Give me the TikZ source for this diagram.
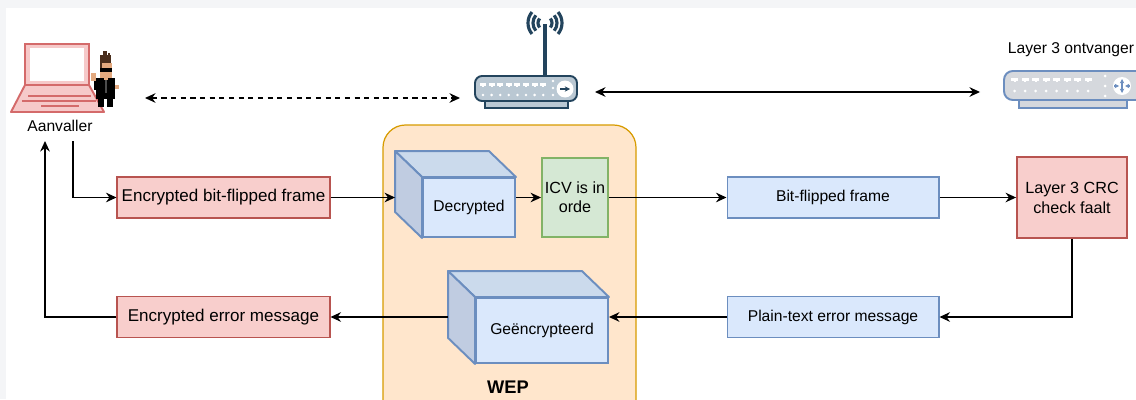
\documentclass[tikz,border=0pt]{standalone}
\usepackage{fontspec}
\setmainfont{Liberation Sans}
\usetikzlibrary{arrows.meta,positioning,calc}

\definecolor{redfill}{HTML}{F8CECC}
\definecolor{redline}{HTML}{B85450}
\definecolor{bluefill}{HTML}{DAE8FC}
\definecolor{blueline}{HTML}{6C8EBF}
\definecolor{cubetop}{HTML}{CBDAEC}
\definecolor{cubeside}{HTML}{C0CCE1}
\definecolor{greenfill}{HTML}{D5E8D4}
\definecolor{greenline}{HTML}{82B366}
\definecolor{wepfill}{HTML}{FFE6CC}
\definecolor{wepline}{HTML}{D79B00}
\definecolor{routerfill}{HTML}{BAC8D3}
\definecolor{routerline}{HTML}{23445D}
\definecolor{switchfill}{HTML}{D5D8DD}
\definecolor{laptopline}{HTML}{D46A6A}
\definecolor{laptopfill}{HTML}{F6C9C9}
\definecolor{pagegray}{HTML}{F4F5F7}
\definecolor{skin}{HTML}{E3A97F}
\definecolor{hair}{HTML}{4A2E1C}

\tikzset{
    txt/.style={font=\fontsize{8.9}{11}\selectfont, align=center},
    redbox/.style={draw=redline, fill=redfill, line width=0.6pt, inner sep=0pt,
        minimum width=4.26cm, minimum height=0.82cm, font=\fontsize{9.7}{11}\selectfont},
    bluebox/.style={draw=blueline, fill=bluefill, line width=0.6pt, inner sep=0pt,
        minimum width=4.24cm, minimum height=0.82cm, txt},
    cubeface/.style={draw=blueline, fill=bluefill, line width=1.1pt, inner sep=0pt, txt},
    flow/.style={draw=black, line width=0.7pt, -{Stealth[length=6pt,width=5.5pt,inset=2pt]}},
    both/.style={draw=black, line width=0.7pt,
        {Stealth[length=6pt,width=5.5pt,inset=2pt]}-{Stealth[length=6pt,width=5.5pt,inset=2pt]}},
}

% front face as a node, top and side faces drawn behind it
\newcommand{\wepcube}[5]{
    \node[cubeface, minimum width=#3, minimum height=#4] (#1) at #2 {};
    \draw[blueline, fill=cubetop, line width=1.1pt, line join=round]
        (#1.north west) -- ++(-27,-26) -- ($(#1.north east)+(-27,-26)$) -- (#1.north east) -- cycle;
    \draw[blueline, fill=cubeside, line width=1.1pt, line join=round]
        (#1.north west) -- ++(-27,-26) -- ($(#1.south west)+(-27,-26)$) -- (#1.south west) -- cycle;
    \node[cubeface, minimum width=#3, minimum height=#4] at (#1) {#5};
    \coordinate (#1-l) at ($(#1.west)+(-27,0)$);
}

\begin{document}
\begin{tikzpicture}[x=0.02cm, y=-0.02cm]
    \useasboundingbox (0,0) rectangle (1136,399);
    \fill[pagegray] (0,0) rectangle (1136,8);
    \fill[pagegray] (0,0) rectangle (6,399);

    % WEP block
    \draw[wepline, fill=wepfill, line width=0.7pt, rounded corners=0.45cm] (383,125) rectangle (636,430);
    \node[font=\bfseries\fontsize{10.4}{12}\selectfont] (wep) at (508,387) {WEP};

    % laptop of the attacker
    \draw[laptopline, fill=laptopfill, line width=1.1pt, line join=round]
        (25,85) -- (89,85) -- (104,112) -- (11,112) -- cycle;
    \draw[laptopline, fill=laptopfill, line width=1.1pt] (25,44) rectangle (89,85);
    \fill[white] (30,48) rectangle (84,81);
    \draw[laptopline, line width=1pt] (28,96) -- (91,96);
    \draw[laptopline, line width=1pt] (22,101) -- (96,101);
    \draw[laptopline, line width=1pt] (41,106) -- (79,106);

    % hacker
    \fill[hair] (100,55) rectangle (111,64);
    \fill[hair] (103,51) rectangle (107,55);
    \fill[hair] (108,53) rectangle (110,55);
    \fill[skin] (100,63) rectangle (112,78);
    \fill[hair] (100,63) rectangle (102,68);
    \fill[black] (100,68) rectangle (112,72);
    \fill[black] (96,78) rectangle (115,99);
    \fill[skin] (104,78) rectangle (108,80);
    \fill[black!70] (105,80) rectangle (107,93);
    \fill[skin] (91,73) rectangle (96,81);
    \fill[black] (94,81) rectangle (97,90);
    \fill[skin] (115,85) rectangle (119,89);
    \fill[black] (98,99) rectangle (104,107);
    \fill[black] (107,99) rectangle (113,107);

    \node[txt] (attacker) at (60,126) {Aanvaller};
    \coordinate (att-out) at (73,141);
    \coordinate (att-in) at (45,141);
    \coordinate (att-r) at (145,98);

    % access point
    \draw[routerline, fill=routerfill, line width=1.1pt] (485,96) rectangle (568,108);
    \fill[routerline] (543,24) rectangle (547,77);
    \foreach \r in {7,12,17} {
        \draw[routerline, line width=1.8pt] (545,23) ++(140:\r) arc (140:220:\r);
        \draw[routerline, line width=1.8pt] (545,23) ++(40:\r) arc (40:-40:\r);
    }
    \draw[routerline, fill=routerfill, line width=1.1pt, rounded corners=4pt] (475,76) rectangle (577,101);
    \foreach \i in {0,...,7} {
        \fill[white] (480+\i*8.6,83) rectangle ++(6,2.5);
        \fill[white] (482+\i*8.6,85.5) rectangle ++(2,1.5);
        \fill[white] (483+\i*8.6,95) circle (1.4);
    }
    \foreach \y in {81,88,95} \fill[white] (553,\y) circle (1.4);
    \fill[white] (565,89) circle (8.5);
    \draw[routerline, line width=1pt, -{Stealth[length=3pt,width=3pt]}] (560,89) -- (570,89);
    \coordinate (ap-l) at (460,98);
    \coordinate (ap-r) at (595,92);

    % receiving layer 3 device
    \node[txt] (l3label) at (1071,50) {Layer 3 ontvanger};
    \draw[blueline, fill=switchfill, line width=1.1pt] (1019,98) rectangle (1127,108);
    \draw[blueline, fill=switchfill, line width=1.1pt, rounded corners=5pt] (1004,71) rectangle (1150,100);
    \foreach \i in {0,...,7} {
        \fill[white] (1011+\i*10.5,78) rectangle ++(7,2.5);
        \fill[white] (1013.5+\i*10.5,80.5) rectangle ++(2,1.5);
        \fill[white] (1014.5+\i*10.5,91) circle (1.5);
    }
    \foreach \y in {76,86,96} \fill[white] (1105,\y) circle (1.5);
    \fill[white] (1122,86) circle (9);
    \draw[blueline, line width=0.7pt, {Stealth[length=2.5pt,width=2.5pt]}-{Stealth[length=2.5pt,width=2.5pt]}] (1122,79) -- (1122,93);
    \draw[blueline, line width=0.7pt, -{Stealth[length=2.5pt,width=2.5pt]}] (1114,86) -- (1119,86);
    \draw[blueline, line width=0.7pt, -{Stealth[length=2.5pt,width=2.5pt]}] (1130,86) -- (1125,86);
    \coordinate (l3-l) at (980,92);

    \draw[both, dash pattern=on 3pt off 2.5pt] (att-r) -- (ap-l);
    \draw[both] (ap-r) -- (l3-l);

    % frames
    \node[redbox] (enc) at (223.5,197.5) {Encrypted bit-flipped frame};
    \node[redbox] (err) at (223.5,317) {Encrypted error message};
    \wepcube{dec}{(469,207.5)}{1.84cm}{1.18cm}{Decrypted}
    \node[draw=greenline, fill=greenfill, line width=1.1pt, minimum width=1.32cm, minimum height=1.58cm,
        inner sep=0pt, txt, font=\fontsize{9.2}{11}\selectfont] (icv) at (575,197.5) {ICV is in\\orde};
    \wepcube{gen}{(542,330.5)}{2.64cm}{1.3cm}{Geëncrypteerd}
    \node[bluebox] (bit) at (833,197.5) {Bit-flipped frame};
    \node[bluebox] (plain) at (833,317) {Plain-text error message};
    \node[draw=redline, fill=redfill, line width=1.1pt, minimum width=2.2cm, minimum height=1.62cm,
        inner sep=0pt, txt, font=\fontsize{9.2}{11.4}\selectfont] (crc) at (1072,197.5) {Layer 3 CRC\\check faalt};

    % flow of the frame
    \draw[flow] (att-out) |- (enc.west);
    \draw[flow] (enc.east) -- (enc.east -| dec-l);
    \draw[flow] (icv.west -| dec.east) -- (icv.west);
    \draw[flow] (icv.east) -- (bit.west);
    \draw[flow] (bit.east) -- (crc.west);
    \draw[flow] (crc.south) |- (plain.east);
    \draw[flow] (plain.west) -- (plain.west -| gen.east);
    \draw[flow] (gen-l |- err.east) -- (err.east);
    \draw[flow] (err.west) -| (att-in);
\end{tikzpicture}
\end{document}
